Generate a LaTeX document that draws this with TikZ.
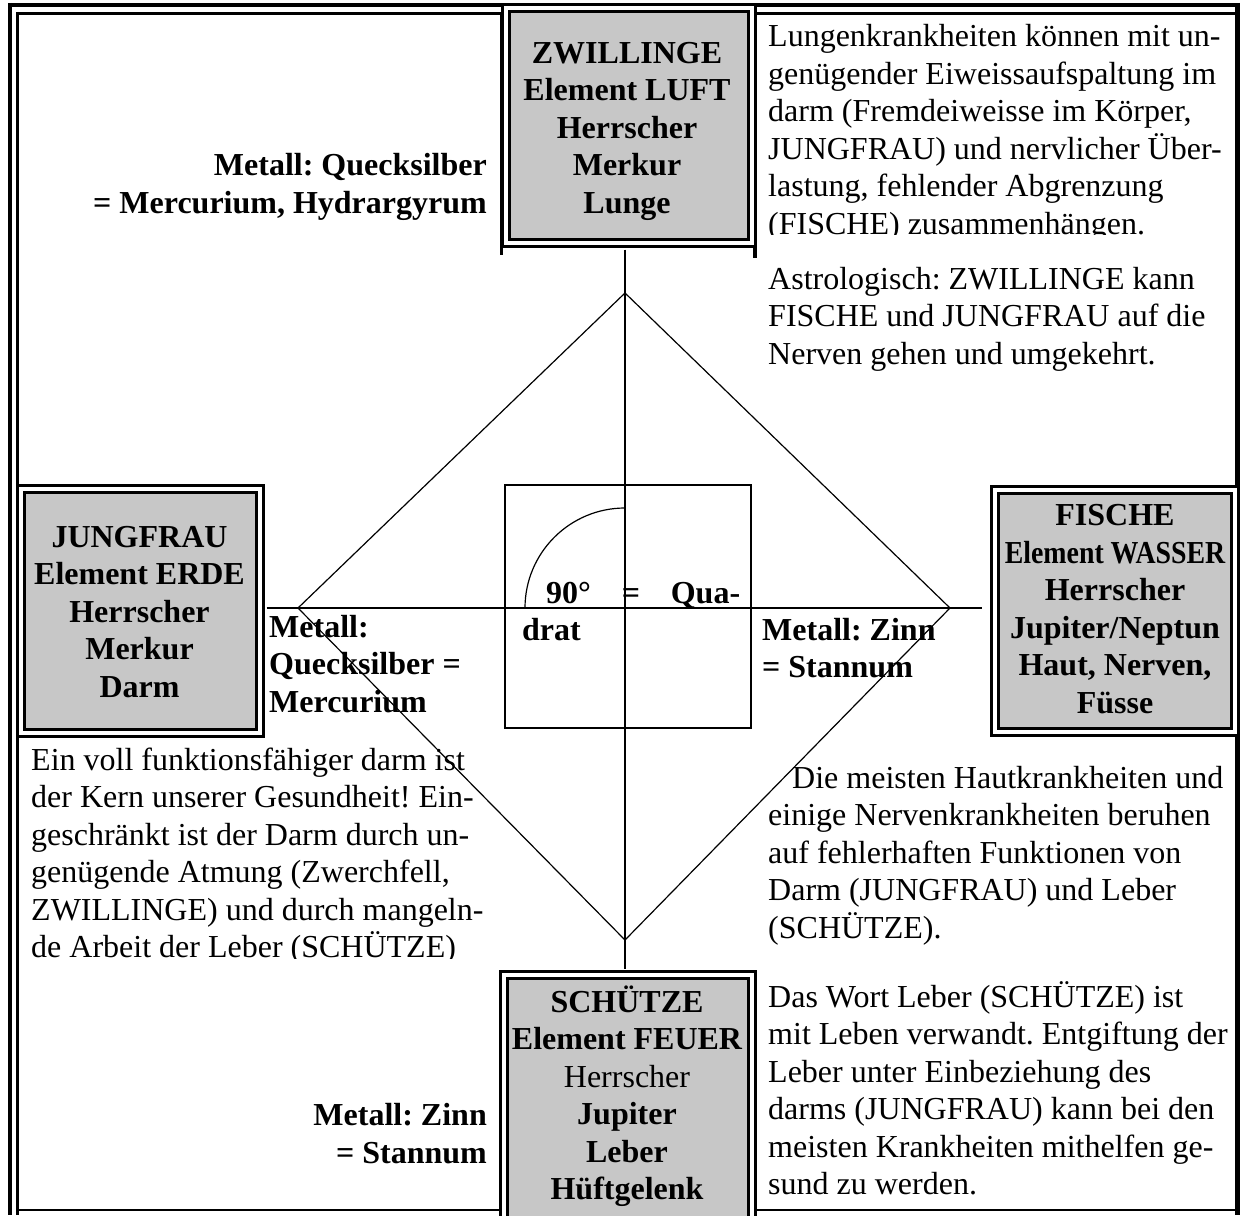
\documentclass[tikz,border=0pt]{standalone}
\usepackage{fontspec}
\setmainfont{Liberation Serif}
\usepackage{graphicx}
\usepackage{tikz}
\usetikzlibrary{calc}
\definecolor{boxgray}{gray}{0.78}
\frenchspacing

\begin{document}
\begin{tikzpicture}[x=1pt, y=-1pt,
  frameline/.style={line width=4pt},
  guide/.style={line width=1.2pt},
  signbox/.style={draw, line width=3pt, double=white, double distance=4pt, fill=boxgray, inner sep=0pt},
  signtext/.style={font=\bfseries\fontsize{32}{37.5}\selectfont, align=center, anchor=base, inner sep=0pt},
  bodytext/.style={font=\fontsize{32}{37.5}\selectfont, align=left, anchor=base west, inner sep=0pt},
  metal/.style={font=\bfseries\fontsize{32}{37.5}\selectfont, inner sep=0pt}]
\useasboundingbox (0,0) rectangle (1244,1215);

% frame of the table
\draw[frameline] (8,5) -- (1240,5);
\draw[frameline] (10,3) -- (10,1215);
\draw[line width=3.5pt] (16,13.5) -- (1237,13.5);
\draw[line width=3.5pt] (17.5,12) -- (17.5,1215);
\draw[line width=5pt] (1237.5,3) -- (1237.5,1215);
\draw[line width=3.5pt] (501.5,13) -- (501.5,255);
\draw[line width=3.5pt] (755,13) -- (755,258);
\draw[line width=1.5pt] (18,1210) -- (1236,1210);

\coordinate (c) at (625,608);

% square in the middle
\draw[line width=1.5pt] (505,485) rectangle (751,728);
\draw[guide] (c) ++(0,-100) arc[start angle=-90, end angle=-180, radius=100];
\draw[guide] (625,293) -- (950,608) -- (625,940) -- (298,608) -- cycle;

% the four signs
\node[signbox, minimum width=246.5, minimum height=235] (zw) at (628.75,125.5) {};
\node[signbox, minimum width=239, minimum height=244] (jung) at (140.5,611) {};
\node[signbox, minimum width=240, minimum height=242] (fi) at (1115,611) {};
\node[signbox, minimum width=248, minimum height=255] (sch) at (628,1102.5) {};

% cross between the signs
\draw[guide] ($(zw.south -| c)+(0,5)$) -- ($(sch.north -| c)+(0,-5)$);
\draw[guide] ($(jung.east |- c)+(5,0)$) -- ($(fi.west |- c)+(-12,0)$);

\node[signtext] (zwtext) at (627,213) {ZWILLINGE\\Element LUFT\\Herrscher\\Merkur\\Lunge};
\node[signtext] (jungtext) at (139.5,697) {JUNGFRAU\\Element ERDE\\Herrscher\\Merkur\\Darm};
\node[signtext] (fitext) at (1115,713) {FISCHE\\\scalebox{0.87}[1]{Element WASSER}\\Herrscher\\Jupiter/Neptun\\Haut, Nerven,\\Füsse};
\node[signtext] (schtext) at (627,1199.5) {SCHÜTZE\\Element FEUER\\{\mdseries Herrscher}\\Jupiter\\Leber\\Hüftgelenk};

\node[metal, align=right, anchor=base east] (metq) at (487,213) {Metall: Quecksilber\\= Mercurium, Hydrargyrum};
\node[metal, align=left, anchor=base west] (metqm) at (269,712) {Metall:\\Quecksilber =\\Mercurium};
\node[metal, align=left, anchor=base west] (metz) at (762,677.5) {Metall: Zinn\\= Stannum};
\node[metal, align=right, anchor=base east] (metzb) at (487,1163) {Metall: Zinn\\= Stannum};

\node[metal, text width=218, align=left, anchor=base west] (quadrat) at (522,603) {\hspace*{24pt}90°\hfill=\hfill Qua-\\drat};

\begin{scope}
\clip (755,15) rectangle (1236,234.5);
\node[bodytext] (lung) at (768,234) {Lungenkrankheiten können mit un-\\genügender Eiweissaufspaltung im\\darm (Fremdeiweisse im Körper,\\JUNGFRAU) und nervlicher Über-\\lastung, fehlender Abgrenzung\\(FISCHE) zusammenhängen.};
\end{scope}
\node[bodytext] (astro) at (768,364) {Astrologisch: ZWILLINGE kann\\FISCHE und JUNGFRAU auf die\\Nerven gehen und umgekehrt.};

\begin{scope}
\clip (18,738) rectangle (500,958);
\node[bodytext] (darm) at (31,957.5) {Ein voll funktionsfähiger darm ist\\der Kern unserer Gesundheit! Ein-\\geschränkt ist der Darm durch un-\\genügende Atmung (Zwerchfell,\\ZWILLINGE) und durch mangeln-\\de Arbeit der Leber (SCHÜTZE)};
\end{scope}
\node[bodytext] (haut) at (768,938) {\hspace*{24pt}Die meisten Hautkrankheiten und\\einige Nervenkrankheiten beruhen\\auf fehlerhaften Funktionen von\\Darm (JUNGFRAU) und Leber\\(SCHÜTZE).};
\node[bodytext] (leber) at (768,1194.5) {Das Wort Leber (SCHÜTZE) ist\\mit Leben verwandt. Entgiftung der\\Leber unter Einbeziehung des\\darms (JUNGFRAU) kann bei den\\meisten Krankheiten mithelfen ge-\\sund zu werden.};
\end{tikzpicture}
\end{document}
